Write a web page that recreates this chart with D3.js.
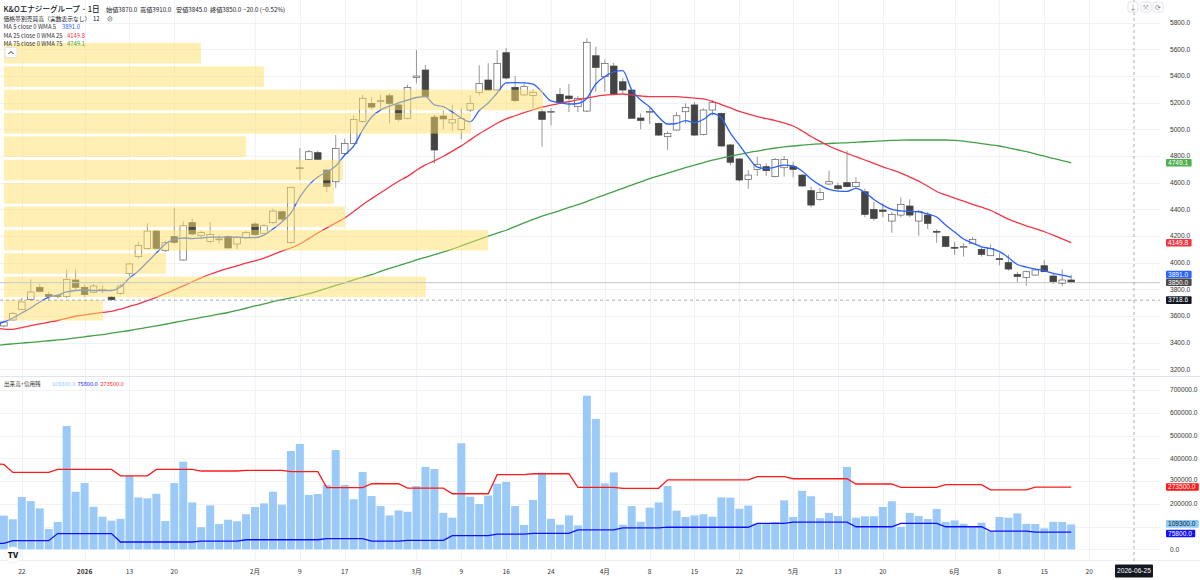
<!DOCTYPE html>
<html>
<head>
<meta charset="utf-8">
<script src="https://cdn.jsdelivr.net/npm/d3@7"></script>
<style>
  html, body { margin: 0; padding: 0; background: #fff; }
  svg { display: block; font-family: "Noto Sans CJK JP", "Noto Sans", sans-serif; }
  .ax { font-family: "Liberation Sans", "DejaVu Sans", sans-serif; }
</style>
</head>
<body>
<div id="chart"></div>
<script>
// 日足データ（2025-12-17 〜 2026-06-18, 121本）
const open = [3500,3525,3570,3650,3725,3815,3762,3752,3745,3870,
  3815,3778,3790,3742,3770,3920,4045,4107,4237,4090,
  4195,4020,4300,4205,4160,4172,4195,4140,4187,4290,
  4220,4300,4382,4150,4705,4775,4825,4695,4607,4820,
  4895,5060,5195,5210,5252,5183,5083,5390,5445,5092,
  5100,5048,5000,5145,5275,5370,5295,5575,5315,5258,
  5255,5132,5130,5263,5250,5170,5137,5552,5395,5475,
  5357,5295,5085,5130,5045,4945,4995,5132,5183,4962,
  5145,5120,4883,4778,4625,4700,4720,4645,4712,4720,
  4657,4540,4475,4590,4577,4600,4570,4532,4400,4395,
  4312,4357,4425,4312,4357,4235,4195,4115,4118,4145,
  4100,4052,4030,4000,3912,3890,3907,3977,3900,3845,
  3870];
const high = [3540,3565,3630,3735,3875,3840,3782,3760,3950,3950,
  3835,3840,3830,3750,3840,4000,4157,4295,4245,4165,
  4410,4310,4330,4240,4305,4205,4205,4200,4240,4305,
  4290,4405,4390,4570,4860,4845,4840,4700,4957,4930,
  5107,5260,5240,5260,5270,5200,5335,5595,5482,5110,
  5140,5185,5165,5257,5480,5495,5595,5610,5400,5340,
  5300,5150,5160,5310,5340,5250,5683,5620,5525,5500,
  5385,5300,5120,5160,5050,4985,5130,5195,5205,5157,
  5220,5125,4890,4785,4695,4795,4745,4785,4800,4757,
  4665,4570,4560,4690,4600,4840,4640,4555,4455,4445,
  4380,4490,4475,4395,4380,4250,4200,4157,4145,4190,
  4115,4135,4070,4060,3932,3940,3957,4020,3920,3950,
  3910];
const low = [3490,3515,3565,3645,3715,3775,3720,3735,3735,3790,
  3740,3770,3770,3715,3760,3900,4030,4100,4100,4080,
  4140,4015,4205,4190,4145,4145,4105,4100,4180,4200,
  4215,4290,4310,4140,4620,4770,4770,4530,4560,4800,
  4890,5050,5150,5150,5045,5060,5075,5345,5240,4745,
  5000,4990,4925,5130,5255,5290,5290,5375,5205,5250,
  5160,4870,5030,5190,5130,5130,5130,5282,5282,5260,
  5270,5080,5000,5040,4950,4845,4990,5045,4950,4955,
  5105,4870,4730,4610,4555,4650,4650,4640,4645,4640,
  4570,4415,4465,4580,4540,4565,4560,4340,4315,4340,
  4225,4340,4340,4202,4252,4150,4118,4057,4045,4140,
  4045,4050,3980,3940,3850,3827,3900,3930,3840,3825,
  3845];
const close = [3530,3555,3620,3705,3780,3785,3745,3745,3875,3815,
  3760,3825,3800,3722,3825,3990,4130,4237,4107,4150,
  4152,4277,4215,4225,4212,4178,4110,4190,4227,4210,
  4277,4387,4327,4565,4712,4832,4775,4572,4857,4895,
  5075,5233,5167,5215,5195,5075,5315,5400,5245,4845,
  5078,5075,5080,5195,5345,5295,5495,5385,5215,5320,
  5278,5075,5135,5200,5230,5232,5653,5465,5495,5265,
  5295,5083,5067,5135,4957,4970,5102,5165,4957,5145,
  5200,4875,4753,4620,4657,4738,4690,4775,4775,4700,
  4575,4432,4527,4607,4555,4570,4602,4362,4332,4385,
  4362,4437,4357,4382,4295,4230,4122,4110,4122,4175,
  4062,4107,4025,3952,3897,3932,3945,3932,3857,3870,
  3850];

// 移動平均線（チャートから読み取った値）
const wma5 = [3530,3555,3585,3622,3660,3705,3742,3757,3780,3791,
  3795,3791,3790,3791,3817,3885,3937,4005,4072,4140,
  4174,4185,4181,4185,4192,4192,4192,4192,4188,4188,
  4207,4252,4305,4372,4492,4582,4642,4680,4725,4808,
  4875,4995,5093,5145,5175,5198,5220,5239,5245,5183,
  5170,5130,5085,5057,5141,5198,5273,5348,5350,5348,
  5340,5280,5213,5200,5190,5194,5233,5340,5396,5432,
  5441,5295,5220,5168,5093,5040,5044,5066,5051,5075,
  5119,5085,4972,4883,4792,4717,4706,4717,4732,4725,
  4687,4627,4582,4549,4537,4535,4557,4526,4474,4432,
  4399,4388,4384,4382,4365,4342,4282,4230,4177,4147,
  4119,4106,4083,4038,3986,3967,3952,3940,3920,3907,
  3891.0];
const wma25 = [3510,3502,3500,3513,3528,3541,3553,3566,3582,3598,
  3608,3618,3627,3635,3652,3672,3691,3715,3740,3767,
  3796,3826,3856,3886,3913,3937,3957,3976,3996,4014,
  4034,4060,4087,4110,4140,4180,4222,4261,4298,4335,
  4383,4435,4480,4524,4568,4611,4647,4693,4733,4764,
  4798,4837,4876,4921,4967,5006,5046,5078,5102,5125,
  5147,5167,5181,5195,5208,5221,5235,5248,5256,5261,
  5265,5258,5250,5245,5245,5245,5245,5240,5234,5228,
  5210,5186,5161,5134,5115,5096,5080,5066,5048,5025,
  4988,4946,4910,4875,4846,4820,4795,4770,4744,4719,
  4696,4672,4642,4612,4573,4534,4508,4484,4461,4438,
  4416,4393,4360,4326,4300,4276,4255,4232,4207,4178,
  4149.8];
const wma75 = [3378,3385,3391,3397,3402,3408,3414,3420,3427,3436,
  3444,3453,3460,3471,3481,3491,3503,3515,3526,3538,
  3551,3564,3577,3589,3601,3614,3626,3642,3658,3675,
  3690,3708,3722,3735,3750,3767,3787,3808,3829,3849,
  3870,3890,3910,3934,3957,3978,3999,4020,4040,4060,
  4080,4101,4126,4151,4175,4199,4222,4243,4271,4298,
  4324,4349,4369,4391,4414,4435,4458,4485,4509,4533,
  4558,4582,4606,4631,4651,4672,4693,4713,4732,4750,
  4769,4784,4799,4813,4826,4837,4849,4860,4868,4875,
  4881,4887,4891,4894,4897,4899,4903,4907,4910,4913,
  4917,4919,4920,4920,4920,4920,4920,4918,4912,4903,
  4893,4884,4875,4861,4847,4833,4816,4799,4782,4765,
  4749.1];

// 出来高と信用残
const volume = [160000,148000,132000,230000,212000,180000,89000,120000,542000,253000,
  291000,187000,143000,126000,134000,323000,228000,224000,244000,124000,
  291000,385000,206000,97000,193000,111000,130000,123000,154000,186000,
  202000,253000,196000,432000,463000,239000,243000,283000,436000,283000,
  220000,340000,234000,190000,149000,171000,165000,278000,362000,353000,
  160000,139000,466000,231000,199000,236000,288000,296000,190000,107000,
  217000,337000,134000,108000,149000,105000,675000,573000,290000,338000,
  108000,190000,121000,183000,206000,278000,170000,142000,149000,154000,
  143000,228000,227000,178000,192000,112000,112000,120000,215000,142000,
  257000,233000,137000,160000,146000,362000,139000,145000,145000,186000,
  211000,99000,160000,146000,133000,177000,120000,127000,112000,98000,
  117000,79000,142000,139000,158000,112000,111000,92000,121000,120000,
  109300];
const marginBuy = [375000,373000,338000,338000,338000,338000,338000,351000,351000,351000,
  351000,351000,351000,351000,323000,323000,323000,323000,351000,351000,
  351000,351000,351000,344000,344000,344000,344000,344000,347000,347000,
  347000,347000,347000,341000,341000,341000,341000,271000,271000,271000,
  271000,271000,288000,288000,288000,288000,269000,269000,269000,269000,
  269000,244000,244000,244000,244000,244000,328000,328000,328000,328000,
  332000,332000,332000,332000,332000,272000,272000,272000,272000,272000,
  268000,268000,268000,268000,268000,305000,305000,305000,305000,305000,
  305000,305000,305000,305000,305000,319000,319000,319000,319000,310000,
  310000,310000,310000,310000,310000,310000,287000,287000,287000,287000,
  287000,272000,272000,272000,272000,272000,284000,284000,284000,284000,
  284000,261000,261000,261000,261000,261000,273500,273500,273500,273500,
  273500];
const marginSell = [26000,26000,38000,38000,38000,38000,38000,69000,69000,69000,
  69000,69000,69000,69000,32000,32000,32000,32000,32000,32000,
  32000,32000,32000,36000,36000,36000,36000,36000,42000,42000,
  42000,42000,42000,42000,42000,42000,42000,47000,47000,47000,
  47000,47000,36000,36000,36000,36000,39500,39500,39500,39500,
  39500,60000,60000,60000,60000,60000,67000,67000,67000,67000,
  70000,70000,70000,70000,70000,85000,85000,85000,85000,85000,
  94000,94000,94000,94000,94000,97000,97000,97000,97000,97000,
  97000,97000,97000,97000,97000,114000,114000,114000,114000,119000,
  119000,119000,119000,119000,119000,119000,99000,99000,99000,99000,
  99000,114000,114000,114000,114000,114000,99000,99000,99000,99000,
  99000,80000,80000,80000,80000,80000,75800,75800,75800,75800,
  75800];

// 価格帯別売買高（上から12段）
const vpVolume = [1970, 2600, 5390, 4670, 2420, 3390, 3300, 3410, 4840, 1620, 4220, 990];
const vpHigh = 5648, vpLow = 3545;

// 目盛り
const priceTicks = [3200,3400,3600,3800,4000,4200,4400,4600,4800,5000,5200,5400,5600,5800];
const volTicks = [0,100000,200000,300000,400000,500000,600000,700000];
const tickIndex = [3,10,15,20,29,34,39,47,52,57,62,68,73,78,83,89,94,99,107,112,117,122];
const tickText = ["22","2026","13","20","2月","9","17","3月","9","16","24","4月","8","15","22","5月","13","20","6月","8","15","20"];

const W = 1200, H = 580;
const plotRight = 1160;
const svg = d3.select("#chart").append("svg").attr("width", W).attr("height", H);

const x = d3.scaleLinear().domain([0, 120]).range([-5.1, 1071.2]);
const y = d3.scaleLinear().domain([3200, 5800]).range([369.3, 22.7]);
const yv = d3.scaleLinear().domain([0, 700000]).range([549.3, 390]);

svg.append("rect").attr("width", W).attr("height", H).attr("fill", "#fff");

// グリッド
const grid = svg.append("g").attr("stroke", "#f0f2f6").attr("stroke-width", 1);
grid.selectAll(".gv").data(tickIndex).join("line")
  .attr("x1", d => Math.round(x(d)) + 0.5).attr("x2", d => Math.round(x(d)) + 0.5)
  .attr("y1", 0).attr("y2", 560);
grid.selectAll(".gp").data(priceTicks).join("line")
  .attr("x1", 0).attr("x2", plotRight)
  .attr("y1", d => Math.round(y(d)) + 0.5).attr("y2", d => Math.round(y(d)) + 0.5);
grid.selectAll(".gq").data(volTicks).join("line")
  .attr("x1", 0).attr("x2", plotRight)
  .attr("y1", d => Math.round(yv(d)) + 0.5).attr("y2", d => Math.round(yv(d)) + 0.5);

// ペイン境界
svg.append("line").attr("x1", 0).attr("x2", W).attr("y1", 376.5).attr("y2", 376.5)
  .attr("stroke", "#e0e3eb");
svg.append("line").attr("x1", 0).attr("x2", W).attr("y1", 560.5).attr("y2", 560.5)
  .attr("stroke", "#eceef2");

// 出来高ペイン
const vg = svg.append("g");
vg.selectAll("rect").data(volume).join("rect")
  .attr("x", (d, i) => x(i) - 4).attr("width", 8)
  .attr("y", d => yv(d)).attr("height", d => yv(0) - yv(d))
  .attr("fill", "#9ccaf8");
const vline = d3.line().x((d, i) => x(i)).y(d => yv(d));
vg.append("path").attr("d", vline(marginBuy)).attr("fill", "none")
  .attr("stroke", "#ff1a1a").attr("stroke-width", 1.3);
vg.append("path").attr("d", vline(marginSell)).attr("fill", "none")
  .attr("stroke", "#1010ff").attr("stroke-width", 1.3);

// 価格ペイン
svg.append("clipPath").attr("id", "pc").append("rect")
  .attr("x", 0).attr("y", 0).attr("width", plotRight).attr("height", 376);
const pg = svg.append("g").attr("clip-path", "url(#pc)");

const idx = d3.range(open.length);
pg.append("g").selectAll("line").data(idx).join("line")
  .attr("x1", i => x(i)).attr("x2", i => x(i))
  .attr("y1", i => y(high[i])).attr("y2", i => y(low[i]))
  .attr("stroke", "#7d7d7d").attr("stroke-width", 0.8);
pg.append("g").selectAll("rect").data(idx).join("rect")
  .attr("x", i => x(i) - 3.3).attr("width", 6.6)
  .attr("y", i => y(Math.max(open[i], close[i])))
  .attr("height", i => Math.max(0.9, Math.abs(y(open[i]) - y(close[i]))))
  .attr("fill", i => close[i] >= open[i] ? "#ffffff" : "#444444")
  .attr("stroke", i => close[i] >= open[i] ? "#5c5c5c" : "#444444")
  .attr("stroke-width", 0.7);

const pline = d3.line().x((d, i) => x(i)).y(d => y(d)).curve(d3.curveMonotoneX);
pg.append("path").attr("d", pline(wma75)).attr("fill", "none").attr("stroke", "#43a047").attr("stroke-width", 1.3);
pg.append("path").attr("d", pline(wma25)).attr("fill", "none").attr("stroke", "#f23645").attr("stroke-width", 1.3);
pg.append("path").attr("d", pline(wma5)).attr("fill", "none").attr("stroke", "#2962ff").attr("stroke-width", 1.3);

// 価格帯別売買高
const vpx = d3.scaleLinear().domain([0, d3.max(vpVolume)]).range([0, 539]);
const rowH = (y(vpLow) - y(vpHigh)) / vpVolume.length;
pg.append("g").selectAll("rect").data(vpVolume).join("rect")
  .attr("x", 4).attr("width", d => vpx(d))
  .attr("y", (d, k) => y(vpHigh) + k * rowH).attr("height", rowH - 2.8)
  .attr("fill", "#ffe066").attr("fill-opacity", 0.5);

// 現在値ライン・十字線
svg.append("line").attr("x1", 0).attr("x2", plotRight)
  .attr("y1", y(3850)).attr("y2", y(3850)).attr("stroke", "#c4c6cc").attr("stroke-width", 1);
svg.append("line").attr("x1", 0).attr("x2", plotRight)
  .attr("y1", y(3718.6)).attr("y2", y(3718.6)).attr("stroke", "#9598a1")
  .attr("stroke-width", 0.8).attr("stroke-dasharray", "3,3");
svg.append("line").attr("x1", x(127)).attr("x2", x(127))
  .attr("y1", 0).attr("y2", 562).attr("stroke", "#9598a1")
  .attr("stroke-width", 0.8).attr("stroke-dasharray", "3,3");

// 軸ラベル
const axFont = 6.6;
const tagH = 7.6;
const tags = [
  [y(4749.1), "4749.1", "#4caf50", "#fff"],
  [y(4149.8), "4149.8", "#f23645", "#fff"],
  [y(3891.0) - 2.7, "3891.0", "#2962ff", "#fff"],
  [y(3850.0) - 0.4, "3850.0", "#4a4a4a", "#fff"],
  [y(3718.6), "3718.6", "#131722", "#fff"],
  [yv(273500), "273500.0", "#ff1a1a", "#fff"],
  [yv(109300) - 0.6, "109300.0", "#90caf9", "#131722"],
  [yv(75800) + 1.4, "75800.0", "#1010ff", "#fff"]
];
// 値ラベルの裏に完全に隠れる目盛りは描かない
const hidden = v => tags.some(t => Math.abs(t[0] - v) < 3.5);

const tickG = svg.append("g").attr("class", "ax");
tickG.selectAll(".tp").data(priceTicks.filter(d => !hidden(y(d)))).join("text")
  .attr("x", 1170).attr("y", d => y(d) + 2.3)
  .attr("font-size", axFont).attr("fill", "#333").text(d => d.toFixed(1));
tickG.selectAll(".tv").data(volTicks.filter(d => !hidden(yv(d)))).join("text")
  .attr("x", 1170).attr("y", d => yv(d) + 2.3)
  .attr("font-size", axFont).attr("fill", "#333").text(d => d.toFixed(1));

// 一部だけ重なる目盛りは値ラベルから少し逃がす
tickG.selectAll("text").each(function () {
  const b = this.getBBox();
  tags.forEach(t => {
    const top = t[0] - tagH / 2, bot = t[0] + tagH / 2;
    if (b.y < bot && b.y + b.height > top) {
      const cy = b.y + b.height / 2;
      const dy = cy < t[0] ? top - (b.y + b.height) - 0.2 : bot - b.y + 0.2;
      d3.select(this).attr("y", +d3.select(this).attr("y") + dy);
    }
  });
});

const tagG = svg.append("g").attr("class", "ax");
tags.forEach(t => {
  const w = t[1].length * 3.6 + 4;
  tagG.append("rect").attr("x", 1166).attr("y", t[0] - tagH / 2).attr("width", w).attr("height", tagH)
    .attr("rx", 1).attr("fill", t[2]);
  tagG.append("text").attr("x", 1168).attr("y", t[0] + 2.3).attr("font-size", axFont)
    .attr("fill", t[3]).text(t[1]);
});

// 時間軸
svg.append("g").selectAll("text").data(tickIndex).join("text")
  .attr("x", d => x(d)).attr("y", 574).attr("text-anchor", "middle")
  .attr("font-size", axFont).attr("fill", "#333")
  .attr("font-weight", (d, k) => tickText[k] === "2026" ? 700 : 400)
  .text((d, k) => tickText[k]);
svg.append("rect").attr("x", x(127) - 19).attr("y", 564.5).attr("width", 38).attr("height", 13)
  .attr("rx", 1).attr("fill", "#131722");
svg.append("text").attr("class", "ax").attr("x", x(127)).attr("y", 573.3).attr("text-anchor", "middle")
  .attr("font-size", axFont).attr("fill", "#fff").text("2026-06-25");

// 凡例
const lg = svg.append("g").attr("fill", "#131722");
lg.append("text").attr("x", 3.5).attr("y", 12.3).attr("font-size", 7.6).attr("font-weight", 500)
  .text("K&Oエナジーグループ · 1日");
[["始値3870.0", 106], ["高値3910.0", 140], ["安値3845.0", 176], ["終値3850.0", 210], ["−20.0 (−0.52%)", 243]]
  .forEach(o => lg.append("text").attr("x", o[1]).attr("y", 12.3).attr("font-size", 6.2).text(o[0]));
lg.append("text").attr("x", 3.5).attr("y", 21.3).attr("font-size", 5.8)
  .text("価格帯別売買高（実数表示なし）");
lg.append("text").attr("x", 93).attr("y", 21.3).attr("font-size", 5.9).text("12");
lg.append("text").attr("x", 107).attr("y", 21.3).attr("font-size", 5.9).text("⊘");
const maLeg = [["MA 5 close 0 WMA 5", "3891.0", "#2962ff", 29.2, 62],
               ["MA 25 close 0 WMA 25", "4149.8", "#f23645", 37.5, 67],
               ["MA 75 close 0 WMA 75", "4749.1", "#43a047", 45.7, 67]];
maLeg.forEach(m => {
  lg.append("text").attr("x", 3.5).attr("y", m[3]).attr("font-size", 5.9).attr("fill", "#333").text(m[0]);
  lg.append("text").attr("x", m[4]).attr("y", m[3]).attr("font-size", 5.9).attr("fill", m[2]).text(m[1]);
});
svg.append("rect").attr("x", 5).attr("y", 47.5).attr("width", 12).attr("height", 10).attr("rx", 2)
  .attr("fill", "#fff").attr("stroke", "#e0e3eb");
svg.append("path").attr("d", "M8.5,54 L11,51.5 L13.5,54").attr("fill", "none").attr("stroke", "#131722").attr("stroke-width", 0.9);

lg.append("text").attr("x", 4).attr("y", 386).attr("font-size", 5.6).attr("fill", "#333").text("出来高+信用残");
lg.append("text").attr("x", 52).attr("y", 386).attr("font-size", 5.6).attr("fill", "#90caf9").text("109300.0");
lg.append("text").attr("x", 77.5).attr("y", 386).attr("font-size", 5.6).attr("fill", "#1010ff").text("75800.0");
lg.append("text").attr("x", 100.5).attr("y", 386).attr("font-size", 5.6).attr("fill", "#ff1a1a").text("273500.0");

// 右上ボタン
[["↓", 1133], ["⤧", 1146], ["⟳", 1158]].forEach(b => {
  svg.append("rect").attr("x", b[1] - 5).attr("y", 2).attr("width", 10).attr("height", 10).attr("rx", 2)
    .attr("fill", "#fff").attr("stroke", "#e0e3eb");
  svg.append("text").attr("x", b[1]).attr("y", 9.5).attr("text-anchor", "middle")
    .attr("font-size", 7).attr("fill", "#787b86").text(b[0]);
});

// ロゴ
svg.append("circle").attr("cx", 13).attr("cy", 555).attr("r", 8).attr("fill", "#fff")
  .attr("stroke", "#f0f2f6");
svg.append("text").attr("x", 13).attr("y", 558).attr("text-anchor", "middle")
  .attr("font-size", 8).attr("font-weight", 900).attr("fill", "#131722").text("TV");
</script>
</body>
</html>
